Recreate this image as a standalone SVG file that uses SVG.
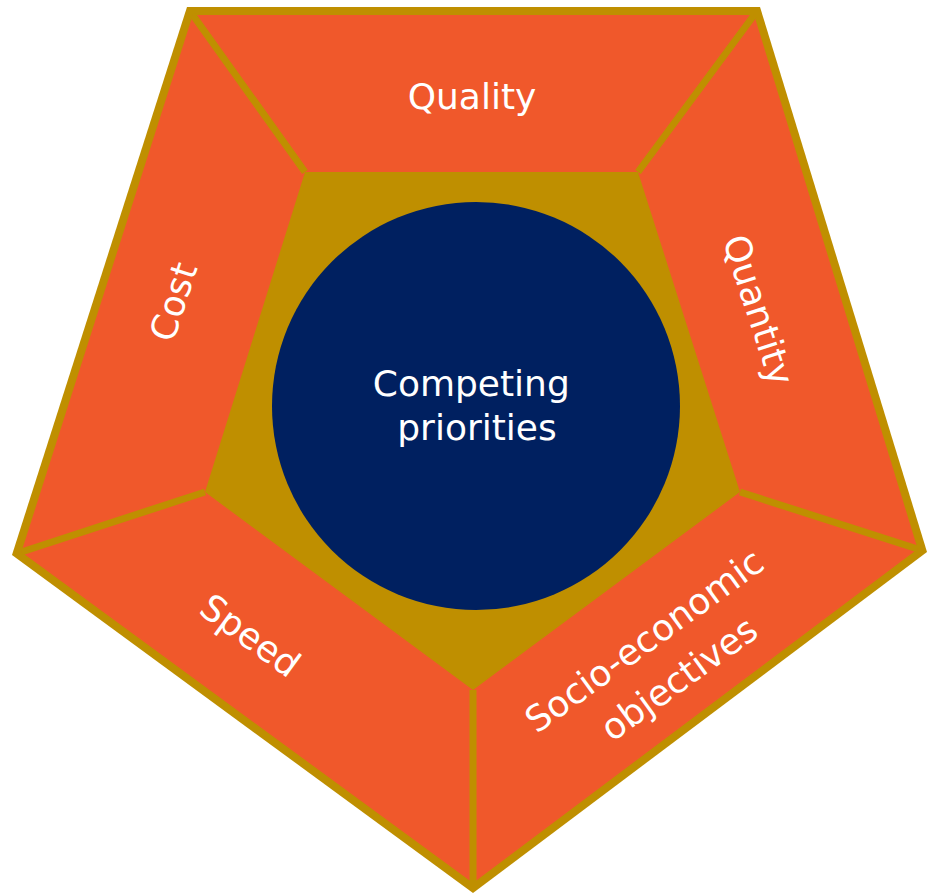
<svg xmlns="http://www.w3.org/2000/svg" width="932" height="894" viewBox="0 0 932 894">
  <style>
    .gold { fill: #BF8F00; }
    .seg { fill: #F0582B; }
    .sep { stroke: #BF8F00; stroke-width: 7; fill: none; }
    .hub { fill: #002060; }
    .lbl { font-family: "DejaVu Sans", "Liberation Sans", sans-serif; font-size: 36px; fill: #FFFFFF; text-anchor: middle; }
  </style>

  <!-- gold pentagon frame -->
  <polygon id="frame" class="gold" points="187,7 760,7 927,552 473,893 12,555"/>

  <!-- five orange segments around the inner pentagon -->
  <g id="segment-quality">
    <polygon class="seg" points="192.8,15 754.1,15 638,172 305,172"/>
    <text class="lbl" x="472" y="109">Quality</text>
  </g>
  <g id="segment-quantity">
    <polygon class="seg" points="754.1,15 917.7,549 740,492 638,172"/>
    <text class="lbl" transform="translate(758,310) rotate(72)" x="0" y="12">Quantity</text>
  </g>
  <g id="segment-socio">
    <polygon class="seg" points="917.7,549 473,883 473,690 740,492"/>
    <text class="lbl" transform="translate(664,658) rotate(-36)">
      <tspan x="0" y="-13">Socio-economic</tspan>
      <tspan x="0" y="38">objectives</tspan>
    </text>
  </g>
  <g id="segment-speed">
    <polygon class="seg" points="473,883 21.4,552 205,492 473,690"/>
    <text class="lbl" transform="translate(250,636) rotate(36)" x="0" y="12">Speed</text>
  </g>
  <g id="segment-cost">
    <polygon class="seg" points="21.4,552 192.8,15 305,172 205,492"/>
    <text class="lbl" transform="translate(174,302) rotate(-72)" x="0" y="12">Cost</text>
  </g>

  <!-- gold separators between neighbouring segments -->
  <g id="connectors">
    <line class="sep" x1="192.8" y1="15" x2="305" y2="172"/>
    <line class="sep" x1="754.1" y1="15" x2="638" y2="172"/>
    <line class="sep" x1="917.7" y1="549" x2="740" y2="492"/>
    <line class="sep" x1="473" y1="883" x2="473" y2="690"/>
    <line class="sep" x1="21.4" y1="552" x2="205" y2="492"/>
  </g>

  <!-- central hub -->
  <g id="hub">
    <circle class="hub" cx="476" cy="406" r="204"/>
    <text class="lbl">
      <tspan x="477" y="396">Competing</tspan>
      <tspan x="477" y="440">priorities</tspan>
    </text>
  </g>
</svg>
